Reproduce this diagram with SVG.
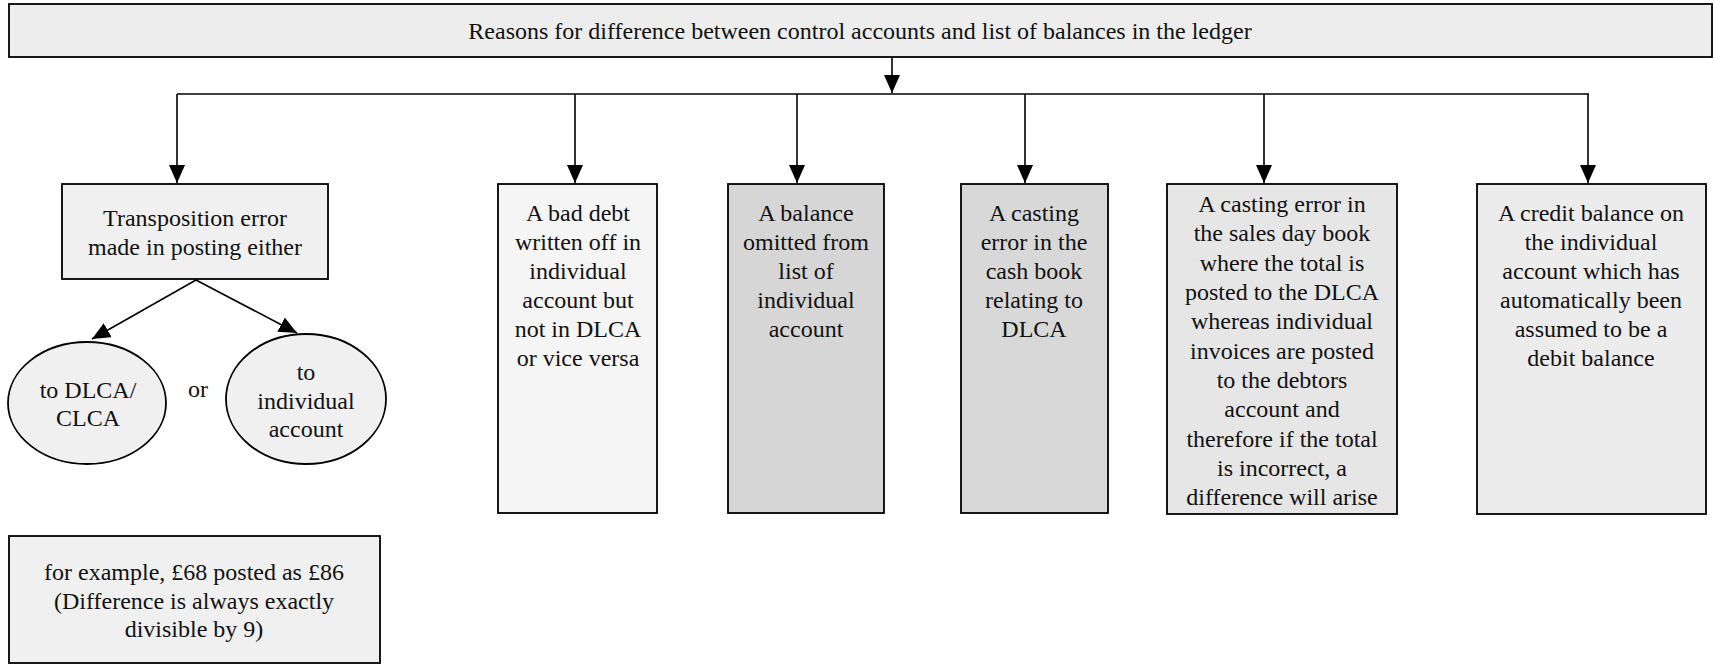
<svg xmlns="http://www.w3.org/2000/svg" width="1714" height="664" viewBox="0 0 1714 664">
<style>
.box{stroke:#000;stroke-width:1.8}
text{font-family:'Liberation Serif','Times New Roman','DejaVu Serif',serif;font-size:24px;fill:#111;text-anchor:middle;dominant-baseline:central}
.ln{stroke:#000;stroke-width:1.6;fill:none}
</style>
<defs>
<marker id="ah" markerUnits="userSpaceOnUse" markerWidth="20" markerHeight="18" refX="18" refY="8" orient="auto">
<path d="M0,0 L18,8 L0,16 z" fill="#000"/>
</marker>
</defs>
<rect width="1714" height="664" fill="#fff"/>
<g id="connectors">
<line class="ln" x1="892" y1="57" x2="892" y2="93" marker-end="url(#ah)"/>
<line class="ln" x1="177" y1="94" x2="1589" y2="94"/>
<line class="ln" x1="177" y1="94" x2="177" y2="183" marker-end="url(#ah)"/>
<line class="ln" x1="575" y1="94" x2="575" y2="183" marker-end="url(#ah)"/>
<line class="ln" x1="797" y1="94" x2="797" y2="183" marker-end="url(#ah)"/>
<line class="ln" x1="1025" y1="94" x2="1025" y2="183" marker-end="url(#ah)"/>
<line class="ln" x1="1264" y1="94" x2="1264" y2="183" marker-end="url(#ah)"/>
<line class="ln" x1="1588" y1="94" x2="1588" y2="183" marker-end="url(#ah)"/>
<line class="ln" x1="196" y1="280" x2="92" y2="339" marker-end="url(#ah)"/>
<line class="ln" x1="196" y1="280" x2="297" y2="333" marker-end="url(#ah)"/>
</g>
<g id="title">
<rect class="box" x="9" y="4" width="1703" height="53" fill="#ededed"/>
<text x="860" y="31" font-family="Liberation Serif">Reasons for difference between control accounts and list of balances in the ledger</text>
</g>
<g id="transposition">
<rect class="box" x="62" y="184" width="266" height="95" fill="#f0f0f0"/>
<text x="195" y="218">Transposition error</text>
<text x="195" y="247">made in posting either</text>
</g>
<g id="dlca">
<ellipse class="box" cx="87" cy="403" rx="79" ry="61" fill="#f0f0f0"/>
<text x="88" y="390">to DLCA/</text>
<text x="88" y="418">CLCA</text>
</g>
<text x="198" y="389">or</text>
<g id="individual">
<ellipse class="box" cx="306" cy="399" rx="80" ry="65" fill="#f0f0f0"/>
<text x="306" y="372">to</text>
<text x="306" y="401">individual</text>
<text x="306" y="429">account</text>
</g>
<g id="example">
<rect class="box" x="9" y="536" width="371" height="127" fill="#f0f0f0"/>
<text x="194" y="572">for example, £68 posted as £86</text>
<text x="194" y="601">(Difference is always exactly</text>
<text x="194" y="629">divisible by 9)</text>
</g>
<g id="baddebt">
<rect class="box" x="498" y="184" width="159" height="329" fill="#f5f5f5"/>
<text x="578" y="213">A bad debt</text>
<text x="578" y="242">written off in</text>
<text x="578" y="271">individual</text>
<text x="578" y="300">account but</text>
<text x="578" y="329">not in DLCA</text>
<text x="578" y="358">or vice versa</text>
</g>
<g id="omitted">
<rect class="box" x="728" y="184" width="156" height="329" fill="#d6d6d6"/>
<text x="806" y="213">A balance</text>
<text x="806" y="242">omitted from</text>
<text x="806" y="271">list of</text>
<text x="806" y="300">individual</text>
<text x="806" y="329">account</text>
</g>
<g id="cashbook">
<rect class="box" x="961" y="184" width="147" height="329" fill="#d8d8d8"/>
<text x="1034" y="213">A casting</text>
<text x="1034" y="242">error in the</text>
<text x="1034" y="271">cash book</text>
<text x="1034" y="300">relating to</text>
<text x="1034" y="329">DLCA</text>
</g>
<g id="salesday">
<rect class="box" x="1167" y="184" width="230" height="330" fill="#e6e6e6"/>
<text x="1282" y="204">A casting error in</text>
<text x="1282" y="233">the sales day book</text>
<text x="1282" y="263">where the total is</text>
<text x="1282" y="292">posted to the DLCA</text>
<text x="1282" y="321">whereas individual</text>
<text x="1282" y="351">invoices are posted</text>
<text x="1282" y="380">to the debtors</text>
<text x="1282" y="409">account and</text>
<text x="1282" y="439">therefore if the total</text>
<text x="1282" y="468">is incorrect, a</text>
<text x="1282" y="497">difference will arise</text>
</g>
<g id="credit">
<rect class="box" x="1477" y="184" width="229" height="330" fill="#ececec"/>
<text x="1591" y="213">A credit balance on</text>
<text x="1591" y="242">the individual</text>
<text x="1591" y="271">account which has</text>
<text x="1591" y="300">automatically been</text>
<text x="1591" y="329">assumed to be a</text>
<text x="1591" y="358">debit balance</text>
</g>
</svg>
